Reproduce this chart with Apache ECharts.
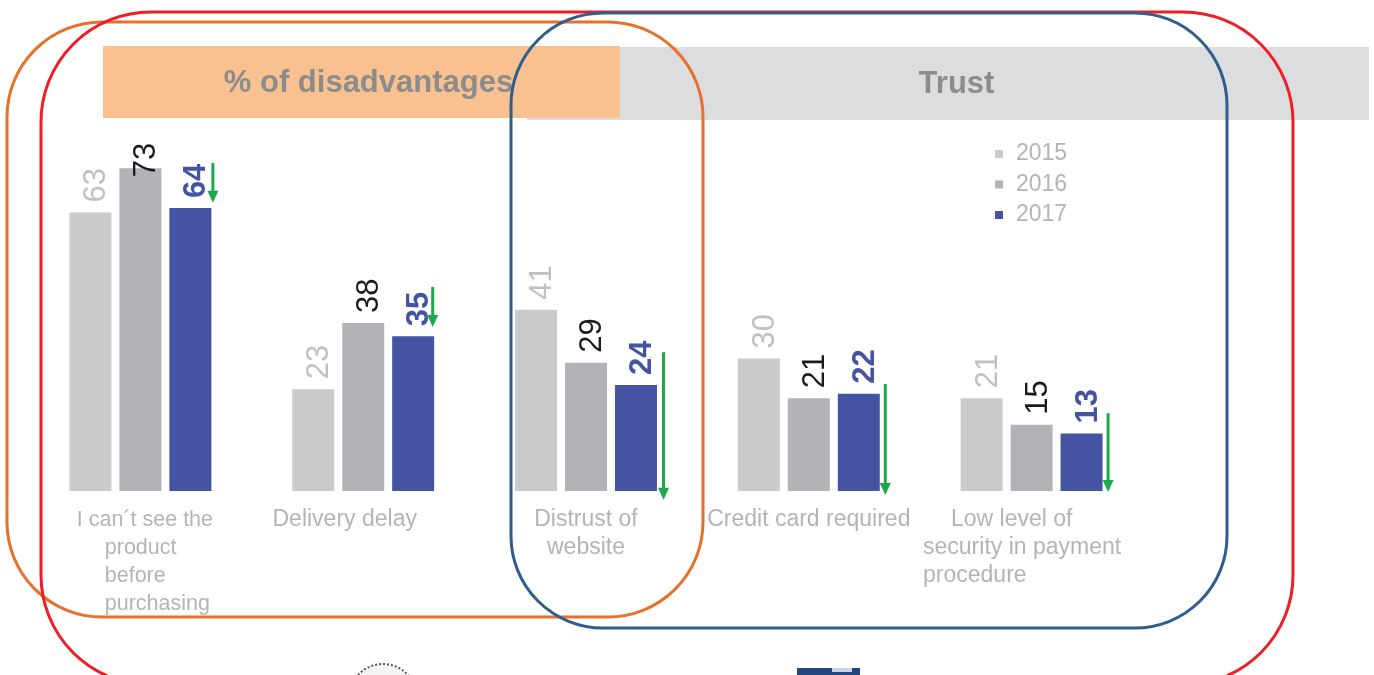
<!DOCTYPE html>
<html>
<head>
<meta charset="utf-8">
<script src="https://cdn.jsdelivr.net/npm/echarts@6/dist/echarts.min.js"></script>
<style>
html,body{margin:0;padding:0;background:#fff;}
#c{width:1374px;height:675px;}
</style>
</head>
<body>
<div id="c"></div>
<script>
const categories = ['I can´t see the\nproduct\nbefore\npurchasing', 'Delivery delay', 'Distrust of\nwebsite', 'Credit card required', 'Low level of\nsecurity in payment\nprocedure'];
const years = ['2015', '2016', '2017'];
const values2015 = [63, 23, 41, 30, 21];
const values2016 = [73, 38, 29, 21, 15];
const values2017 = [64, 35, 24, 22, 13];
const arrowFrom = [74.2, 46.2, 31.4, 24.2, 17.6];
const arrowTo = [65.2, 37.1, -2.0, -0.9, -0.2];
const headerLeft = '% of disadvantages';
const headerRight = 'Trust';

const FONT = "'Liberation Sans', Arial, sans-serif";
const CAT_COLOR = '#b3b4b7';
const arrowDx = [72.5, 69.5, 77.5, 76.5, 76.5];

const base = {fontFamily: FONT, color: CAT_COLOR, fontSize: 23, lineHeight: 28};
const rich = {
  f0: Object.assign({}, base, {fontSize: 21.5, align: 'left', padding: [0, 0, 0, 9]}),
  r0: Object.assign({}, base, {fontSize: 21.5, align: 'left', padding: [0, 0, 0, 37]}),
  f1: Object.assign({}, base, {padding: [0, 37, 0, 0]}),
  r1: Object.assign({}, base, {padding: [0, 37, 0, 0]}),
  f2: Object.assign({}, base),
  r2: Object.assign({}, base),
  f3: Object.assign({}, base),
  r3: Object.assign({}, base),
  f4: Object.assign({}, base, {align: 'left', padding: [0, 19, 0, 28]}),
  r4: Object.assign({}, base, {align: 'left', padding: [0, 19, 0, 0]})
};

const chart = echarts.init(document.getElementById('c'), null, {renderer: 'canvas'});

function barLabel(color, bold) {
  return {
    show: true, position: 'top', rotate: 90, align: 'left', verticalAlign: 'middle',
    distance: 10, offset: [0, 6.5], fontFamily: FONT, fontSize: 31, color: color,
    fontWeight: bold ? 'bold' : 'normal'
  };
}

// the first 2016 label sits lower in the reference, overlapping its bar top
const data2016 = values2016.map((v, i) => i === 0 ? {value: v, label: {distance: -9}} : v);

const arrowData = categories.map((c, i) => [i, arrowFrom[i], arrowTo[i]]);

chart.setOption({
  animation: false,
  backgroundColor: '#ffffff',
  grid: {left: 29, right: 231, top: 137.4, bottom: 184, containLabel: false},
  legend: {
    orient: 'vertical', left: 990, top: 137.5, icon: 'rect',
    itemWidth: 8, itemHeight: 8, itemGap: 7.5,
    data: years,
    textStyle: {fontFamily: FONT, fontSize: 23, lineHeight: 23, color: CAT_COLOR, padding: [0, 0, 0, 8]}
  },
  xAxis: {
    type: 'category', data: categories,
    axisLine: {show: false}, axisTick: {show: false}, splitLine: {show: false},
    axisLabel: {
      interval: 0, margin: 15, fontFamily: FONT, color: CAT_COLOR, fontSize: 23, lineHeight: 28,
      formatter: function (value, idx) {
        return value.split('\n').map((l, i) => '{' + (i === 0 ? 'f' : 'r') + idx + '|' + l + '}').join('\n');
      },
      rich: rich
    }
  },
  yAxis: {type: 'value', min: 0, max: 80, show: false, splitLine: {show: false}},
  series: [
    {name: years[0], type: 'bar', data: values2015, barWidth: 42, barGap: '19%',
     itemStyle: {color: '#c9cacc'}, label: barLabel('#bfc0c2', false)},
    {name: years[1], type: 'bar', data: data2016, barWidth: 42, barGap: '19%',
     itemStyle: {color: '#b2b3b6'}, label: barLabel('#1b1b1b', false)},
    {name: years[2], type: 'bar', data: values2017, barWidth: 42, barGap: '19%',
     itemStyle: {color: '#4553a3'}, label: barLabel('#4553a3', true)},
    {type: 'custom', data: arrowData, encode: {x: 0, y: [1, 2]}, clip: false, z: 5,
     renderItem: function (params, api) {
       const i = api.value(0);
       const x = api.coord([i, 0])[0] + arrowDx[i];
       const y1 = api.coord([i, api.value(1)])[1];
       const y2 = api.coord([i, api.value(2)])[1];
       const head = 12;
       return {
         type: 'group',
         children: [
           {type: 'line', shape: {x1: x, y1: y1, x2: x, y2: y2 - head + 1},
            style: {stroke: '#1aa94b', lineWidth: 3}},
           {type: 'polygon', shape: {points: [[x - 5.5, y2 - head], [x + 5.5, y2 - head], [x, y2]]},
            style: {fill: '#1aa94b'}}
         ]
       };
     }}
  ],
  graphic: [
    {type: 'rect', z: 0, shape: {x: 527, y: 47, width: 842, height: 73}, style: {fill: '#dcdddf'}},
    {type: 'rect', z: 0, shape: {x: 103, y: 46, width: 517, height: 72}, style: {fill: '#f9c190'}},
    {type: 'text', z: 1, style: {x: 368.5, y: 83, text: headerLeft, textAlign: 'center', textVerticalAlign: 'middle',
      font: 'bold 31px ' + FONT, fill: '#8c8c8c'}},
    {type: 'text', z: 1, style: {x: 956.5, y: 84, text: headerRight, textAlign: 'center', textVerticalAlign: 'middle',
      font: 'bold 31px ' + FONT, fill: '#8c8c8c'}},
    {type: 'rect', z: 20, shape: {x: 7, y: 22, width: 696, height: 595, r: 95},
      style: {fill: 'none', stroke: '#e7712b', lineWidth: 3}},
    {type: 'rect', z: 21, shape: {x: 41, y: 12, width: 1252, height: 673, r: 110},
      style: {fill: 'none', stroke: '#ee1d26', lineWidth: 3}},
    {type: 'rect', z: 22, shape: {x: 511, y: 13, width: 716, height: 615, r: 92},
      style: {fill: 'none', stroke: '#2f5d8c', lineWidth: 3}},
    {type: 'circle', z: 1, shape: {cx: 383, cy: 698, r: 34},
      style: {fill: '#f4f4f4', stroke: '#555', lineWidth: 2, lineDash: [2, 2]}},
    {type: 'rect', z: 1, shape: {x: 797, y: 668, width: 63, height: 10}, style: {fill: '#24467f'}},
    {type: 'rect', z: 2, shape: {x: 832, y: 668, width: 20, height: 4}, style: {fill: '#c9d3e6'}}
  ]
});
</script>
</body>
</html>
